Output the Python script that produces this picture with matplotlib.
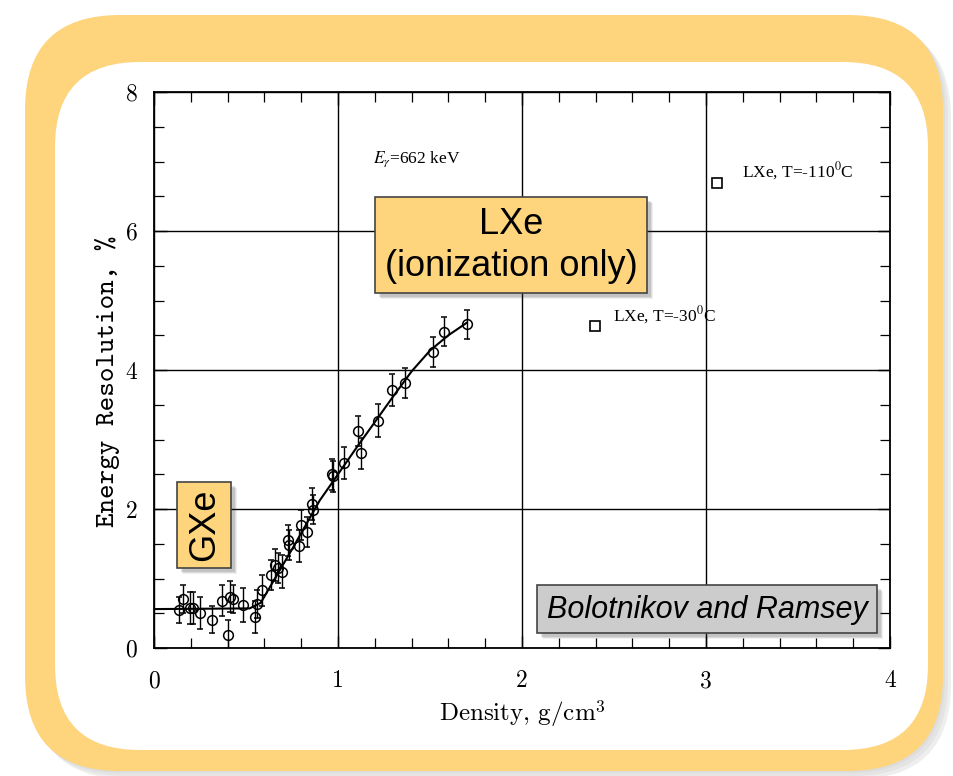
import matplotlib
matplotlib.use("Agg")
import matplotlib.pyplot as plt
from matplotlib.patches import FancyBboxPatch
import numpy as np

density = [0.138, 0.16, 0.196, 0.214, 0.25, 0.317, 0.368, 0.404, 0.413, 0.43,
           0.485, 0.551, 0.561, 0.589, 0.634, 0.658, 0.676, 0.697, 0.726, 0.735,
           0.788, 0.799, 0.83, 0.86, 0.866, 0.966, 0.975, 1.03, 1.11, 1.125,
           1.219, 1.292, 1.364, 1.518, 1.578, 1.70]
resolution = [0.55, 0.70, 0.58, 0.57, 0.51, 0.41, 0.68, 0.19, 0.74, 0.70,
              0.62, 0.45, 0.63, 0.83, 1.05, 1.20, 1.15, 1.10, 1.55, 1.48,
              1.47, 1.77, 1.67, 2.07, 1.99, 2.50, 2.47, 2.66, 3.12, 2.80,
              3.27, 3.71, 3.81, 4.26, 4.55, 4.66]
res_err = [0.19, 0.20, 0.23, 0.23, 0.23, 0.20, 0.22, 0.22, 0.22, 0.20,
           0.24, 0.23, 0.20, 0.22, 0.22, 0.23, 0.22, 0.24, 0.22, 0.22,
           0.23, 0.22, 0.22, 0.23, 0.21, 0.22, 0.22, 0.23, 0.22, 0.22,
           0.24, 0.23, 0.22, 0.22, 0.21, 0.21]

# guide-line through the points
fit_x = [0.0, 0.52, 0.58, 0.75, 0.9, 1.0, 1.1, 1.2, 1.3, 1.4, 1.5, 1.6, 1.7]
fit_y = [0.56, 0.57, 0.65, 1.42, 2.12, 2.5, 2.88, 3.25, 3.62, 3.98, 4.28, 4.5, 4.68]

# liquid xenon points
lxe_x = [2.397, 3.058]
lxe_y = [4.63, 6.69]
lxe_labels = ["LXe, T=-30$^0$C", "LXe, T=-110$^0$C"]

W, H = 954, 776
fig = plt.figure(figsize=(W / 100, H / 100), dpi=100)
plt.rcParams["mathtext.fontset"] = "stix"

# rounded orange frame
bg = fig.add_axes([0, 0, 1, 1], zorder=0)
bg.set_xlim(0, W)
bg.set_ylim(H, 0)
bg.axis("off")
for k, a in enumerate([0.06, 0.08, 0.12]):
    bg.add_patch(FancyBboxPatch((27 + 3 * k, 17 + 3 * k), 918, 756,
                                boxstyle="round,pad=0,rounding_size=95",
                                fc="#777777", ec="none", alpha=a))
bg.add_patch(FancyBboxPatch((25, 15), 918, 756,
                            boxstyle="round,pad=0,rounding_size=95",
                            fc="#FED47C", ec="none"))
bg.add_patch(FancyBboxPatch((55, 62), 873, 688,
                            boxstyle="round,pad=0,rounding_size=85",
                            fc="white", ec="none"))

ax = fig.add_axes([154 / W, 1 - 648 / H, 736 / W, 556 / H], zorder=1)
ax.set_xlim(0, 4)
ax.set_ylim(0, 8)
ax.set_xticks([0, 1, 2, 3, 4])
ax.set_yticks([0, 2, 4, 6, 8])
ax.set_xticks(np.arange(0, 4.01, 0.2), minor=True)
ax.set_yticks(np.arange(0, 8.01, 0.5), minor=True)
ax.grid(True, which="major", color="black", lw=1.0)
ax.tick_params(which="both", direction="in", top=True, right=True,
               color="black")
ax.tick_params(which="major", length=9, width=1.0)
ax.tick_params(axis="x", which="major", pad=16)
ax.tick_params(axis="y", which="major", pad=12)
ax.tick_params(which="minor", length=7, width=0.9)
for s in ax.spines.values():
    s.set_linewidth(1.3)
for lab in ax.get_xticklabels() + ax.get_yticklabels():
    lab.set_fontfamily("cmr10")
    lab.set_fontsize(17)

ax.plot(fit_x, fit_y, color="black", lw=1.5, zorder=3)
ax.errorbar(density, resolution, yerr=res_err, fmt="o", mfc="none",
            mec="black", ms=7, mew=1.1, ecolor="black", elinewidth=1.0,
            capsize=2.5, zorder=4)
ax.plot(lxe_x, lxe_y, "s", mfc="white", mec="black", ms=7.5, mew=1.2, zorder=4)
ax.text(lxe_x[0] + 0.1, lxe_y[0] + 0.08, lxe_labels[0], fontsize=12.5,
        family="Liberation Serif")
ax.text(lxe_x[1] + 0.14, lxe_y[1] + 0.08, lxe_labels[1], fontsize=12.5,
        family="Liberation Serif")
ax.text(1.19, 6.98, "$E_\\gamma$=662 keV", fontsize=12.5,
        family="Liberation Serif")

ax.set_xlabel("Density, g/cm$^\\mathregular{3}$", family="cmr10", fontsize=18,
              labelpad=4)
ax.set_ylabel("Energy Resolution, %", family="cmtt10", fontsize=20)
ax.yaxis.set_label_coords(-0.046, 0.48)

# callout boxes drawn on top
ov = fig.add_axes([0, 0, 1, 1], zorder=2)
ov.set_xlim(0, W)
ov.set_ylim(H, 0)
ov.axis("off")
ov.patch.set_alpha(0)


def callout(x0, y0, w, h, fc):
    for k, a in enumerate([0.08, 0.1, 0.14]):
        ov.add_patch(plt.Rectangle((x0 + 6 - k, y0 + 6 - k), w, h,
                                   fc="#333333", ec="none", alpha=a))
    ov.add_patch(plt.Rectangle((x0, y0), w, h, fc=fc, ec="#444444", lw=1.2))


callout(375, 197, 272, 96, "#FED47C")
ov.text(511, 225, "LXe", ha="center", va="center", fontsize=26,
        family="Liberation Sans")
ov.text(511, 266, "(ionization only)", ha="center", va="center", fontsize=26,
        family="Liberation Sans")

callout(177, 482, 54, 86, "#FED47C")
ov.text(205, 525, "GXe", ha="center", va="center", rotation=90, fontsize=26,
        family="Liberation Sans")

callout(537, 585, 340, 48, "#CCCCCC")
ov.text(707, 610, "Bolotnikov and Ramsey", ha="center", va="center",
        fontsize=22, style="italic", family="Liberation Sans")

fig.savefig("out.png", dpi=100)
